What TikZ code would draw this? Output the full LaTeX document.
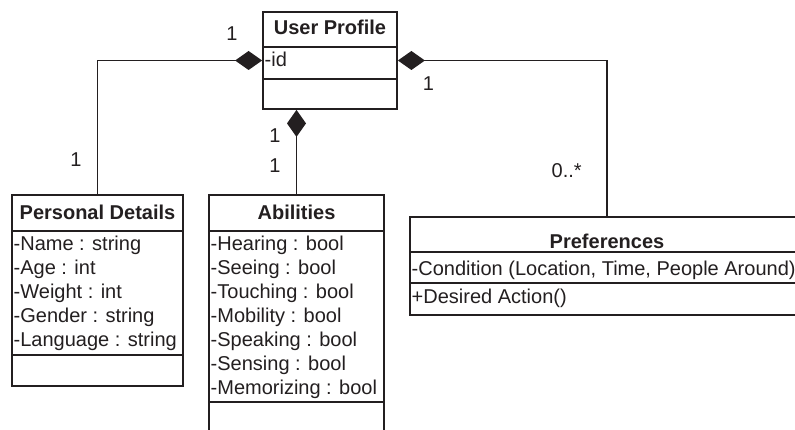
\documentclass[tikz,border=0pt]{standalone}
\usepackage{fontspec}
\setmainfont{Liberation Sans}
\usetikzlibrary{arrows.meta}
\definecolor{ink}{HTML}{231F20}
\begin{document}
\begin{tikzpicture}[x=1pt,y=-1pt,
  classbox/.style={draw=ink, line width=1.8pt, inner sep=0pt},
  divider/.style={draw=ink, line width=1.8pt},
  label/.style={inner sep=0pt, text=ink, font=\fontsize{20}{24}\selectfont},
  title/.style={label, anchor=base, font=\fontsize{20}{24}\selectfont\bfseries},
  attr/.style={label, anchor=base west},
  mult/.style={label, anchor=base},
  conn/.style={draw=ink, line width=1.3pt},
  compo/.style={conn, {Diamond[length=27pt,width=19pt]}-}]
\useasboundingbox (0,0) rectangle (795,430);
\fill[white] (0,0) rectangle (795,430);
\clip (0,0) rectangle (795,430);

% User Profile
\node[classbox, minimum width=134pt, minimum height=97pt] (up) at (330,60.5) {};
\node[title] (upT) at (330,35) {User Profile};
\draw[divider] (263,47) -- (397,47);
\draw[divider] (263,79) -- (397,79);
\node[attr] (upA1) at (264.5,66.7) {-id};

% Personal Details
\node[classbox, minimum width=171pt, minimum height=191pt] (pd) at (97.5,290.5) {};
\node[title] (pdT) at (97.5,219.3) {Personal Details};
\draw[divider] (12,231) -- (183,231);
\draw[divider] (12,355) -- (183,355);
\node[attr] (pdA1) at (13.5,251) {-Name : string};
\node[attr] (pdA2) at (13.5,274.9) {-Age : int};
\node[attr] (pdA3) at (13.5,298.8) {-Weight : int};
\node[attr] (pdA4) at (13.5,322.7) {-Gender : string};
\node[attr] (pdA5) at (13.5,346.6) {-Language : string};

% Abilities
\node[classbox, minimum width=175pt, minimum height=245pt] (ab) at (296.5,317.5) {};
\node[title] (abT) at (296.5,219.3) {Abilities};
\draw[divider] (209,231) -- (384,231);
\draw[divider] (209,402) -- (384,402);
\node[attr] (abA1) at (210.5,251) {-Hearing : bool};
\node[attr] (abA2) at (210.5,274.9) {-Seeing : bool};
\node[attr] (abA3) at (210.5,298.8) {-Touching : bool};
\node[attr] (abA4) at (210.5,322.7) {-Mobility : bool};
\node[attr] (abA5) at (210.5,346.6) {-Speaking : bool};
\node[attr] (abA6) at (210.5,370.5) {-Sensing : bool};
\node[attr] (abA7) at (210.5,394.4) {-Memorizing : bool};

% Preferences
\node[classbox, minimum width=394pt, minimum height=98pt] (pref) at (607,266) {};
\node[title] (prT) at (607,248.3) {Preferences};
\draw[divider] (410,252) -- (804,252);
\draw[divider] (410,283) -- (804,283);
\node[attr] (prA1) at (411.5,276) {-Condition (Location, Time, People Around)};
\node[attr] (prO1) at (411.5,304) {+Desired Action()};

% Compositions
\draw[compo] (up.west) -| (pd.north);
\draw[compo] (up.east) -| (pref.north);
\draw[compo] (up.south -| ab.north) -- (ab.north);

% Multiplicities
\node[mult] (m1) at (232,41) {1};
\node[mult] (m2) at (76,167) {1};
\node[mult] (m3) at (428.5,91) {1};
\node[mult] (m4) at (566.7,178) {0..*};
\node[mult] (m5) at (275,143) {1};
\node[mult] (m6) at (275,173) {1};
\end{tikzpicture}
\end{document}
